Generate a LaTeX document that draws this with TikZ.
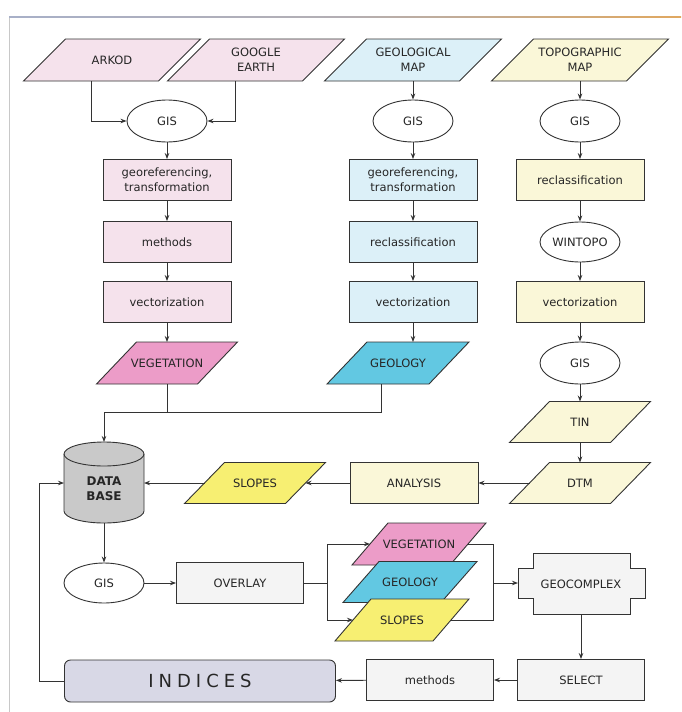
\documentclass[tikz,border=0pt]{standalone}
\usepackage{fontspec}
\setmainfont{DejaVu Sans}
\usetikzlibrary{shapes.geometric,arrows.meta,calc}
\definecolor{pinkL}{HTML}{F5E2EC}
\definecolor{pinkD}{HTML}{EC9CC8}
\definecolor{blueL}{HTML}{DCF0F8}
\definecolor{blueD}{HTML}{62C8E2}
\definecolor{yelL}{HTML}{FAF7D8}
\definecolor{yelD}{HTML}{F7EF72}
\definecolor{grayL}{HTML}{F4F4F4}
\definecolor{dbgray}{HTML}{C9C9C9}
\definecolor{indc}{HTML}{D8D8E6}
\definecolor{linec}{HTML}{333333}
\definecolor{framec}{HTML}{C8C8C8}
\definecolor{topl}{HTML}{A8B0C8}
\definecolor{topr}{HTML}{E0A860}
\definecolor{textc}{HTML}{262626}

\newcommand{\parabox}[8]{%
  \path[draw=linec, line width=0.9pt, fill=#7]
    ({#2-#4/2-#6/2},{#3+#5/2}) -- ({#2+#4/2-#6/2},{#3+#5/2}) --
    ({#2+#4/2+#6/2},{#3-#5/2}) -- ({#2-#4/2+#6/2},{#3-#5/2}) -- cycle;
  \coordinate (#1-n) at (#2,{#3-#5/2});
  \coordinate (#1-s) at (#2,{#3+#5/2});
  \coordinate (#1-w) at ({#2-#4/2},#3);
  \coordinate (#1-e) at ({#2+#4/2},#3);
  \node[txt] (#1) at (#2,#3) {#8};
}

\tikzset{
  txt/.style={font=\fontsize{11.5}{15}\selectfont, text=textc, align=center, inner sep=0pt},
  procbox/.style={draw=linec, line width=0.9pt, minimum width=128pt, minimum height=41pt,
    font=\fontsize{11.5}{15}\selectfont, text=textc, align=center, inner sep=2pt},
  gisell/.style={ellipse, draw=linec, line width=0.9pt, fill=white, minimum width=80pt,
    minimum height=42pt, inner sep=0pt, font=\fontsize{11.5}{15}\selectfont, text=textc},
  conn/.style={draw=linec, line width=0.9pt},
  arr/.style={conn, -{Stealth[length=6pt,width=4.5pt]}},
}

\begin{document}
\begin{tikzpicture}[x=1pt, y=-1pt]
\fill[white] (0,0) rectangle (681,712);
\useasboundingbox (0,0) rectangle (681,712);
\draw[framec, line width=1pt] (9,712) -- (9,17);
\shade[left color=topl, right color=topr, middle color=topl!80!topr] (9,16.4) rectangle (681,17.6);

% top inputs
\parabox{ark}{112}{60}{135}{42}{42}{pinkL}{ARKOD}
\parabox{goo}{256}{60}{135}{42}{42}{pinkL}{GOOGLE\\EARTH}
\parabox{gmap}{413}{60}{135}{42}{42}{blueL}{GEOLOGICAL\\MAP}
\parabox{tmap}{580}{60}{135}{42}{42}{yelL}{TOPOGRAPHIC\\MAP}

% GIS row
\node[gisell] (gis1) at (167,121) {GIS};
\node[gisell] (gis2) at (413,121) {GIS};
\node[gisell] (gis3) at (580,121) {GIS};

% left column
\node[procbox, fill=pinkL] (geor1) at (167,180) {georeferencing,\\transformation};
\node[procbox, fill=pinkL] (meth1) at (167,242) {methods};
\node[procbox, fill=pinkL] (vec1) at (167,302) {vectorization};
\parabox{veg}{167}{363}{101}{42}{40}{pinkD}{VEGETATION}

% middle column
\node[procbox, fill=blueL] (geor2) at (413,180) {georeferencing,\\transformation};
\node[procbox, fill=blueL] (recl2) at (413,242) {reclassification};
\node[procbox, fill=blueL] (vec2) at (413,302) {vectorization};
\parabox{geol}{398}{363}{102}{42}{40}{blueD}{GEOLOGY}

% right column
\node[procbox, fill=yelL] (recl3) at (580,180) {reclassification};
\node[gisell, minimum height=40pt] (wint) at (580,242) {WINTOPO};
\node[procbox, fill=yelL] (vec3) at (580,302) {vectorization};
\node[gisell] (gis4) at (580,363) {GIS};
\parabox{tin}{580}{422}{101}{41}{40}{yelL}{TIN}
\parabox{dtm}{580}{483}{101}{41}{40}{yelL}{DTM}

% analysis row
\node[procbox, fill=yelL] (anl) at (414,483) {ANALYSIS};
\parabox{slp}{255}{483}{101}{41}{40}{yelD}{SLOPES}

% database
\path[draw=linec, line width=0.9pt, fill=dbgray] (64,454) -- (64,511)
  arc[start angle=180, end angle=360, x radius=40pt, y radius=12pt] -- (144,454)
  arc[start angle=0, end angle=180, x radius=40pt, y radius=12pt] -- cycle;
\draw[linec, line width=0.9pt] (64,454) arc[start angle=180, end angle=360, x radius=40pt, y radius=12pt];
\node[font=\bfseries\fontsize{12}{15}\selectfont, text=textc, align=center] (db) at (104,489) {DATA\\BASE};
\coordinate (db-n) at (104,442);
\coordinate (db-s) at (104,523);
\coordinate (db-e) at (144,483);
\coordinate (db-w) at (64,483);

% overlay row
\node[gisell, minimum height=40pt] (gis5) at (104,583) {GIS};
\node[procbox, fill=grayL, minimum width=127pt] (ovl) at (240,583) {OVERLAY};
\parabox{veg2}{419}{544}{98}{42}{36}{pinkD}{VEGETATION}
\parabox{geol2}{410}{582}{98}{41}{36}{blueD}{GEOLOGY}
\parabox{slp2}{402}{620}{98}{42}{36}{yelD}{SLOPES}

% geocomplex
\path[draw=linec, line width=0.9pt, fill=grayL] (533,553) -- (630,553) -- (630,568) -- (645,568)
  -- (645,598) -- (630,598) -- (630,614) -- (533,614) -- (533,598) -- (518,598)
  -- (518,568) -- (533,568) -- cycle;
\node[txt] (gcx) at (581,584) {GEOCOMPLEX};
\coordinate (gcx-w) at (518,583);
\coordinate (gcx-s) at (581,614);

% bottom row
\node[procbox, fill=grayL, minimum width=127pt] (sel) at (581,680) {SELECT};
\node[procbox, fill=grayL, minimum width=127pt] (meth2) at (430,680) {methods};
\node[draw=linec, line width=0.9pt, fill=indc, rounded corners=6pt, minimum width=271pt,
  minimum height=42pt, text=textc, font=\fontsize{18}{20}\selectfont] (ind) at (200,681)
  {I\kern5pt N\kern5pt D\kern5pt I\kern5pt C\kern5pt E\kern5pt S};

% connectors
\draw[arr] ($(ark-s)+(-21,0)$) |- (gis1.west);
\draw[arr] ($(goo-s)+(-21,0)$) |- (gis1.east);
\draw[arr] (gmap-s) -- (gis2.north);
\draw[arr] (tmap-s) -- (gis3.north);
\draw[arr] (gis1) -- (geor1);
\draw[arr] (geor1) -- (meth1);
\draw[arr] (meth1) -- (vec1);
\draw[arr] (vec1) -- (veg-n);
\draw[arr] (gis2) -- (geor2);
\draw[arr] (geor2) -- (recl2);
\draw[arr] (recl2) -- (vec2);
\draw[arr] (vec2.south) -- (vec2.south |- geol-n);
\draw[arr] (gis3) -- (recl3);
\draw[arr] (recl3) -- (wint);
\draw[arr] (wint) -- (vec3);
\draw[arr] (vec3) -- (gis4);
\draw[arr] (gis4) -- (tin-n);
\draw[arr] (tin-s) -- (dtm-n);

\coordinate (j1) at (104,412);
\draw[conn] (veg-s) -- (veg-s |- j1);
\draw[conn] ($(geol-s)+(-17,0)$) |- (j1);
\draw[arr] (j1) -- (db-n);

\draw[arr] (dtm-w) -- (anl.east);
\draw[arr] (anl.west) -- (slp-e);
\draw[arr] (slp-w) -- (db-e);

\draw[arr] (db-s) -- (gis5.north);
\draw[arr] (gis5) -- (ovl);
\coordinate (lb) at (327,583);
\draw[conn] (ovl.east) -- (lb);
\draw[arr] (lb) |- (veg2-w);
\draw[arr] (lb) |- (slp2-w);
\coordinate (rb) at (493,583);
\draw[conn] (veg2-e) -| (rb);
\draw[conn] (slp2-e) -| (rb);
\draw[arr] (rb) -- (gcx-w);
\draw[arr] (gcx-s) -- (sel);
\draw[arr] (sel) -- (meth2);
\draw[arr] (meth2) -- (ind);
\draw[arr] (ind.west) -- ++(-25,0) |- (db-w);
\end{tikzpicture}
\end{document}
